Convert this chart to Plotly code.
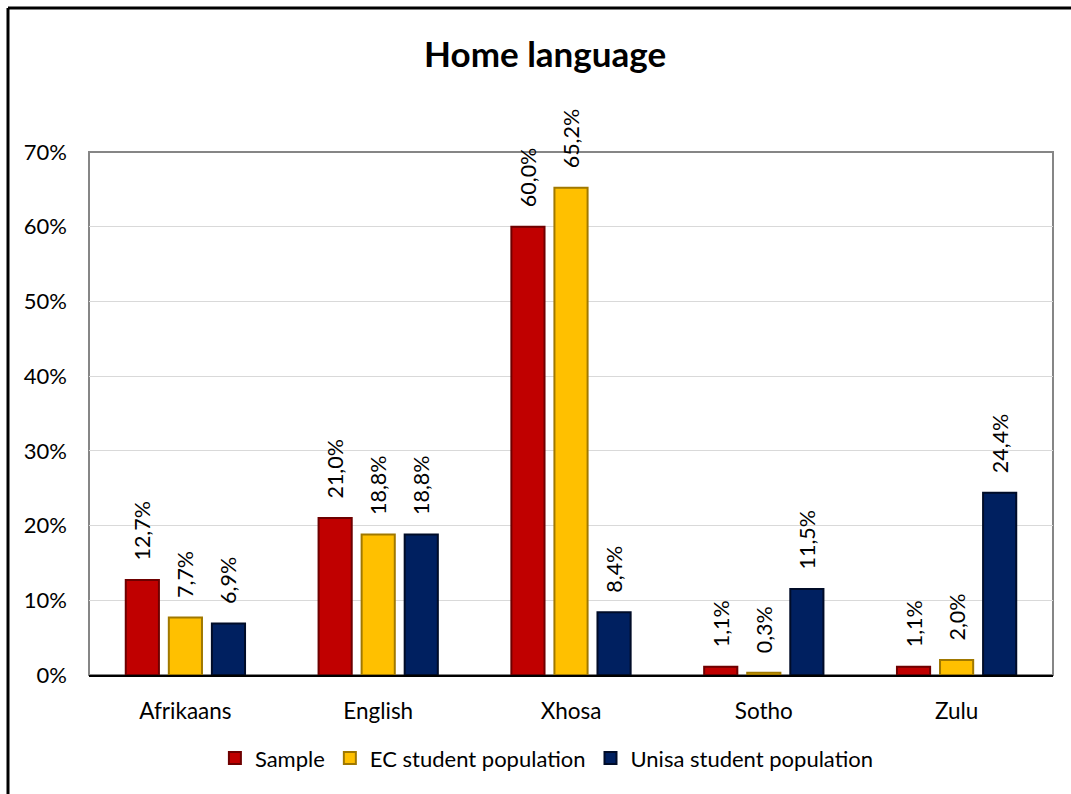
import plotly.graph_objects as go

# Home language distribution (percent of respondents)
languages = ["Afrikaans", "English", "Xhosa", "Sotho", "Zulu"]
sample = [12.7, 21.0, 60.0, 1.1, 1.1]
ec_population = [7.7, 18.8, 65.2, 0.3, 2.0]
unisa_population = [6.9, 18.8, 8.4, 11.5, 24.4]

series_names = ["Sample", "EC student population", "Unisa student population"]
fill_colors = ["#C00000", "#FFC000", "#002060"]
edge_colors = ["#6E0000", "#A07800", "#000C28"]

FONT = "Lato, 'Open Sans', sans-serif"
PAD = "\u00a0\u00a0\u00a0"

fig = go.Figure()
for name, values, fill, edge in zip(series_names,
                                    [sample, ec_population, unisa_population],
                                    fill_colors, edge_colors):
    fig.add_trace(go.Bar(
        name=name,
        x=languages,
        y=values,
        marker=dict(color=fill, line=dict(color=edge, width=2)),
        text=[PAD + f"{v:.1f}".replace(".", ",") + "%" for v in values],
        texttemplate="%{text}",
        textposition="outside",
        textangle=-90,
        constraintext="none",
        cliponaxis=False,
        textfont=dict(family=FONT, size=21.5, color="#000000"),
        hoverinfo="skip",
    ))

fig.update_layout(
    width=1071,
    height=794,
    margin=dict(l=89, r=18, t=152, b=119),
    paper_bgcolor="white",
    plot_bgcolor="white",
    barmode="group",
    bargap=0.33,
    bargroupgap=0.23,
    font=dict(family=FONT, size=22, color="#000000"),
    title=dict(
        text="<b>Home language</b>",
        x=0.509, xanchor="center",
        y=1 - 55 / 794, yanchor="middle",
        font=dict(family=FONT, size=35, color="#000000"),
    ),
    legend=dict(
        orientation="h",
        x=0.475, xanchor="center",
        y=-0.159, yanchor="middle",
        font=dict(family=FONT, size=22),
        itemwidth=30,
        traceorder="normal",
    ),
    xaxis=dict(
        showline=True, linecolor="#000000", linewidth=2,
        showgrid=False, ticks="",
        tickfont=dict(family=FONT, size=22.5),
        ticklabelstandoff=15,
    ),
    yaxis=dict(
        range=[0, 70], dtick=10, ticksuffix="%",
        showgrid=True, gridcolor="#D9D9D9", gridwidth=1.3,
        showline=False, zeroline=False, ticks="",
        tickfont=dict(family=FONT, size=22),
        ticklabelstandoff=21,
    ),
    shapes=[
        # plot-area border
        dict(type="rect", xref="paper", yref="paper", x0=0, y0=0, x1=1, y1=1,
             line=dict(color="#868686", width=2), fillcolor="rgba(0,0,0,0)",
             layer="below"),
        # outer frame (left and top edges)
        dict(type="line", xref="paper", yref="paper",
             x0=(8 - 89) / 964, x1=(8 - 89) / 964, y0=(675 - 8) / 523, y1=-119 / 523 - 0.01,
             line=dict(color="#000000", width=3)),
        dict(type="line", xref="paper", yref="paper",
             x0=(8 - 89) / 964, x1=(1071 - 89) / 964 + 0.01, y0=(675 - 8) / 523, y1=(675 - 8) / 523,
             line=dict(color="#000000", width=3)),
    ],
)

fig.write_html("out.html")
